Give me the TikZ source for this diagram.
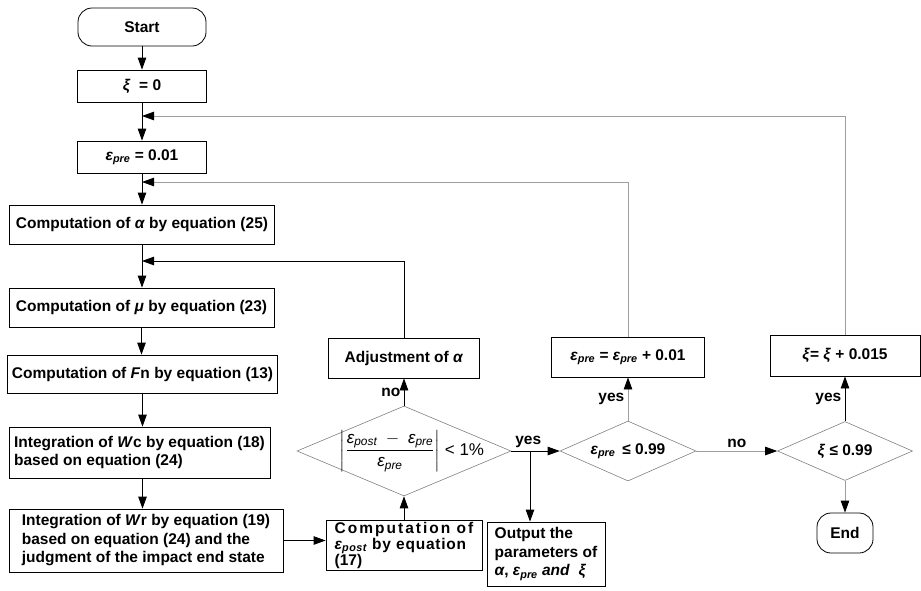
\documentclass[tikz,border=0pt]{standalone}
\usepackage{fontspec,amsmath}
\setmainfont{Liberation Sans}
\usetikzlibrary{shapes.geometric,arrows.meta}
\definecolor{linegray}{gray}{0.62}
\definecolor{diagray}{gray}{0.5}
\newcommand{\epre}{\textit{ε\textsubscript{pre}}}
\newcommand{\epost}{\textit{ε\textsubscript{post}}}

\begin{document}
\begin{tikzpicture}[x=1pt,y=-1pt,
        every node/.style={font=\bfseries\fontsize{15.5}{18.5}\selectfont},
        box/.style={draw,line width=0.8pt,inner sep=4pt},
        term/.style={box,rounded corners=14pt},
        decision/.style={diamond,draw=diagray,line width=0.6pt,inner sep=0pt,shape aspect=2.4},
        arr/.style={-{Triangle[length=12pt,width=8.5pt]},line width=0.8pt},
        back/.style={draw=linegray,line width=0.8pt,-{Triangle[length=12pt,width=8.5pt,color=black]}}]
        \useasboundingbox (0,0) rectangle (921,590);

        % Left column.
        \node[term,minimum width=128pt,minimum height=38pt] (start) at (142,27) {Start};
        \node[box,minimum width=129pt,minimum height=32pt] (xi0) at (142,86) {\textit{ξ} \ = 0};
        \node[box,minimum width=129pt,minimum height=32pt] (ep0) at (142,157) {\epre{} = 0.01};
        \node[box,minimum width=265pt,minimum height=39pt] (calpha) at (142,224.5) {Computation of \textit{α} by equation (25)};
        \node[box,minimum width=265pt,minimum height=39pt] (cmu) at (141.5,307.5) {Computation of \textit{μ} by equation (23)};
        \node[box,minimum width=267pt,minimum height=38pt] (cfn) at (142.5,374) {Computation of \textit{F}n by equation (13)};
        \node[box,align=left,minimum width=261pt,minimum height=51pt] (iwc) at (139.5,452.5) {Integration of \textit{W}c by equation (18)\\based on equation (24)};
        \node[box,align=left,minimum width=274pt,minimum height=63pt] (iwr) at (146,540.5) {Integration of \textit{W}r by equation (19)\\based on equation (24) and the\\judgment of the impact end state};

        % Middle and right.
        \node[box,align=left,minimum width=156pt,minimum height=49pt,inner sep=2pt,font=\bfseries\fontsize{15.5}{16}\selectfont] (cpost) at (404,545.5) {{\addfontfeature{LetterSpace=13}Computation of}\\{\addfontfeature{LetterSpace=5}\epost{} by equation}\\(17)};
        \node[box,align=left,minimum width=118pt,minimum height=64pt,inner sep=3pt] (outp) at (546,554) {Output the\\parameters of\\\textit{α}, \epre{} \textit{and} \ \textit{ξ}};
        \node[box,minimum width=151pt,minimum height=40pt] (adj) at (404,358) {Adjustment of \textit{α}};
        \node[decision,minimum width=214pt,minimum height=90pt] (d1) at (404,451) {};
        \node[font=\mdseries\fontsize{17}{19}\selectfont] (d1txt) at (412,451) {$\left|\dfrac{\text{\epost}\;-\;\text{\epre}}{\text{\epre}}\right|$ < 1\%};
        \node[decision,minimum width=136pt,minimum height=60pt] (d2) at (628,451) {\epre{} \,≤ 0.99};
        \node[decision,minimum width=135pt,minimum height=59pt] (d3) at (845,451) {\textit{ξ} ≤ 0.99};
        \node[box,minimum width=153pt,minimum height=40pt] (epinc) at (628,357) {\epre{} = \epre{} + 0.01};
        \node[box,minimum width=150pt,minimum height=41pt] (xiinc) at (845,355.5) {\textit{ξ}= \textit{ξ} + 0.015};
        \node[term,minimum width=56pt,minimum height=40pt] (fin) at (845,533) {End};

        \coordinate (j1) at (142,261);
        \coordinate (j2) at (142,182);
        \coordinate (j3) at (142,116);
        \coordinate (j4) at (530,451);

        \draw[arr] (start.south) -- (xi0.north);
        \draw[arr] (xi0.south) -- (ep0.north);
        \draw[arr] (ep0.south) -- (calpha.north);
        \draw[arr] (calpha.south) -- (calpha.south |- cmu.north);
        \draw[arr] (cmu.south) -- (cmu.south |- cfn.north);
        \draw[arr] (cfn.south) -- (cfn.south |- iwc.north);
        \draw[arr] (cfn.south |- iwc.south) -- (cfn.south |- iwr.north);
        \draw[arr] (iwr.east) -- (iwr.east -| cpost.west);
        \draw[arr] (cpost.north) -- (d1.south);
        \draw[arr] (d1.north) -- node[left]{no} (adj.south);
        \draw[arr] (adj.north) |- (j1); % back to mu
        \draw[arr] (d1.east) -- node[above,pos=0.35]{yes} (d2.west);
        \draw[arr] (j4) -- (j4 |- outp.north);
        \draw[back] (d2.north) -- node[left]{yes} (epinc.south);
        \draw[back] (epinc.north) |- (j2); % next eps_pre
        \draw[back] (d2.east) -- node[above]{no} (d3.west);
        \draw[arr] (d3.north) -- node[left]{yes} (xiinc.south);
        \draw[back] (xiinc.north) |- (j3); % next xi
        \draw[back] (d3.south) -- (fin.north);
    \end{tikzpicture}
\end{document}
